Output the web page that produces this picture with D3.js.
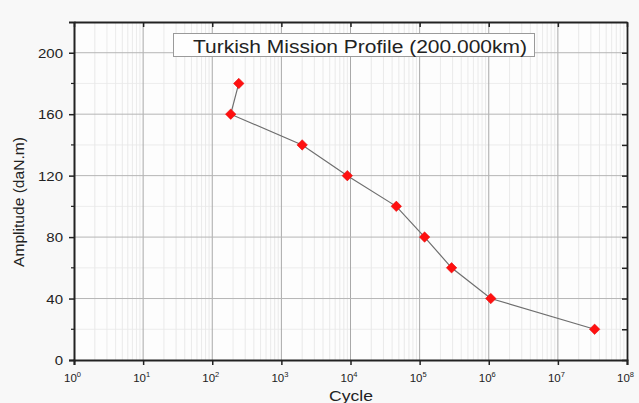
<!DOCTYPE html>
<html>
<head>
<meta charset="utf-8">
<script src="https://cdn.jsdelivr.net/npm/d3@7"></script>
<style>
  html, body { margin: 0; padding: 0; background: #f8f8f8; }
  svg { display: block; }
  text { font-family: "Liberation Sans", Arial, sans-serif; fill: #222; }
</style>
</head>
<body>
<svg id="chart" width="639" height="403"></svg>
<script>
// Mission profile: load amplitude vs. number of cycles
const cycles     = [242, 185, 2000, 9000, 46000, 118000, 290000, 1070000, 34000000];
const amplitudes = [180, 160, 140, 120, 100, 80, 60, 40, 20];
const xTickExponents = [0, 1, 2, 3, 4, 5, 6, 7, 8];
const yTicks = [0, 40, 80, 120, 160, 200];
const yMinorTicks = [20, 60, 100, 140, 180];
const titleText = "Turkish Mission Profile (200.000km)";
const xLabel = "Cycle";
const yLabel = "Amplitude (daN.m)";

const svg = d3.select("#chart");
const W = 639, H = 403;
const m = { left: 74, right: 12, top: 22, bottom: 43 };
const iw = W - m.left - m.right, ih = H - m.top - m.bottom;

const x = d3.scaleLog().domain([1, 1e8]).range([m.left, m.left + iw]);
const y = d3.scaleLinear().domain([0, 220]).range([m.top + ih, m.top]);

// plot background
svg.append("rect").attr("x", m.left).attr("y", m.top).attr("width", iw).attr("height", ih)
  .attr("fill", "#fdfdfd");

const grid = svg.append("g");
// minor vertical grid (2..9 within each decade)
const minorX = [];
for (let e = 0; e < 8; e++) for (let k = 2; k <= 9; k++) minorX.push(k * Math.pow(10, e));
grid.selectAll(".vminor").data(minorX).join("line")
  .attr("x1", d => x(d)).attr("x2", d => x(d)).attr("y1", m.top).attr("y2", m.top + ih)
  .attr("stroke", "#e4e4e4").attr("stroke-width", 0.8);
// minor horizontal grid
grid.selectAll(".hminor").data(yMinorTicks).join("line")
  .attr("x1", m.left).attr("x2", m.left + iw).attr("y1", d => y(d)).attr("y2", d => y(d))
  .attr("stroke", "#e8e8e8").attr("stroke-width", 0.8);
// major grid
grid.selectAll(".vmajor").data(xTickExponents.slice(1, -1)).join("line")
  .attr("x1", d => x(Math.pow(10, d))).attr("x2", d => x(Math.pow(10, d)))
  .attr("y1", m.top).attr("y2", m.top + ih)
  .attr("stroke", "#a9a9a9").attr("stroke-width", 1);
grid.selectAll(".hmajor").data(yTicks.slice(1)).join("line")
  .attr("x1", m.left).attr("x2", m.left + iw).attr("y1", d => y(d)).attr("y2", d => y(d))
  .attr("stroke", "#b5b5b5").attr("stroke-width", 1);

// bottom axis
const xVals = xTickExponents.map(e => Math.pow(10, e));
const xAxis = d3.axisBottom(x).tickValues(xVals).tickSize(5).tickFormat("");
const gx = svg.append("g").attr("transform", `translate(0,${m.top + ih})`).call(xAxis);
gx.select(".domain").attr("stroke", "#222").attr("stroke-width", 2);
gx.selectAll(".tick line").attr("stroke", "#222").attr("stroke-width", 1.5);
gx.selectAll(".tick").each(function(d, i) {
  const t = d3.select(this).append("text").attr("x", -2).attr("y", 22).attr("text-anchor", "middle")
    .attr("font-size", 11.5);
  t.append("tspan").text("10");
  t.append("tspan").attr("dy", -5).attr("font-size", 7.5).text(xTickExponents[i]);
});

// left axis
const yAxis = d3.axisLeft(y).tickValues(yTicks).tickSize(5).tickFormat("");
const gy = svg.append("g").attr("transform", `translate(${m.left},0)`).call(yAxis);
gy.select(".domain").attr("stroke", "#222").attr("stroke-width", 2);
gy.selectAll(".tick line").attr("stroke", "#222").attr("stroke-width", 1.5);
gy.selectAll(".tick").append("text")
  .attr("transform", "translate(-11,4.5) scale(1.2,1)")
  .attr("text-anchor", "end").attr("font-size", 12.5).attr("fill", "#222")
  .text(d => d);
gy.selectAll(".ym").data(yMinorTicks).join("line").attr("class", "ym")
  .attr("x1", -3).attr("x2", 0).attr("y1", d => y(d)).attr("y2", d => y(d))
  .attr("stroke", "#222").attr("stroke-width", 1.2);

// top and right frame with inward ticks
const gt = svg.append("g").attr("transform", `translate(0,${m.top})`)
  .call(d3.axisBottom(x).tickValues(xVals).tickSize(5).tickFormat("").tickSizeOuter(0));
gt.select(".domain").attr("stroke", "#222").attr("stroke-width", 1.8);
gt.selectAll(".tick line").attr("stroke", "#222").attr("stroke-width", 1.5);
const gr = svg.append("g").attr("transform", `translate(${m.left + iw},0)`)
  .call(d3.axisRight(y).tickValues(yTicks.concat(yMinorTicks)).tickSize(-5).tickFormat("").tickSizeOuter(0));
gr.select(".domain").attr("stroke", "#222").attr("stroke-width", 1.8);
gr.selectAll(".tick line").attr("stroke", "#222").attr("stroke-width", 1.5);

// data line and markers
const pts = cycles.map((c, i) => [c, amplitudes[i]]);
svg.append("path").datum(pts)
  .attr("d", d3.line().x(d => x(d[0])).y(d => y(d[1])))
  .attr("fill", "none").attr("stroke", "#6e6e6e").attr("stroke-width", 1.2);
svg.selectAll(".pt").data(pts).join("path").attr("class", "pt")
  .attr("transform", d => `translate(${x(d[0])},${y(d[1])})`)
  .attr("d", d3.symbol().type(d3.symbolDiamond2).size(70))
  .attr("fill", "#ff1010").attr("stroke", "#e00000").attr("stroke-width", 0.5);

// title box
const tb = svg.append("g");
tb.append("rect").attr("x", 173.5).attr("y", 33.5).attr("width", 361).attr("height", 23)
  .attr("fill", "#fefefe").attr("stroke", "#9a9a9a").attr("stroke-width", 1);
tb.append("text").attr("x", 193).attr("y", 53).attr("font-size", 17.5)
  .attr("textLength", 334).attr("lengthAdjust", "spacingAndGlyphs").text(titleText);

// axis titles
svg.append("text").attr("x", 329).attr("y", 400.5).attr("font-size", 15)
  .attr("textLength", 44).attr("lengthAdjust", "spacingAndGlyphs").text(xLabel);
svg.append("text").attr("transform", `translate(24,202) rotate(-90)`)
  .attr("text-anchor", "middle").attr("font-size", 15)
  .attr("textLength", 130).attr("lengthAdjust", "spacingAndGlyphs").text(yLabel);
</script>
</body>
</html>
